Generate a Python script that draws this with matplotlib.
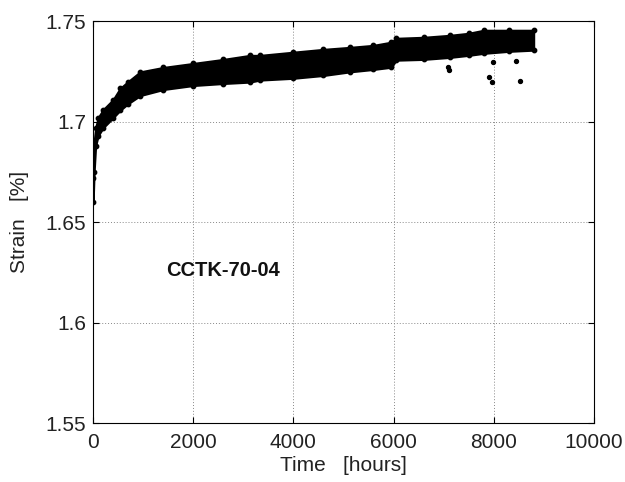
import matplotlib
matplotlib.use("Agg")
import matplotlib.pyplot as plt

plt.rcParams["font.family"] = ["Liberation Sans", "DejaVu Sans"]

time_h = [0, 20, 50, 100, 200, 400, 540, 700, 940, 1400, 2000, 2600, 3130,
          3330, 4000, 4600, 5130, 5600, 5960, 6050, 6600, 7130, 7500, 7800,
          8300, 8800]
strain_upper = [1.672, 1.690, 1.697, 1.702, 1.706, 1.711, 1.7166, 1.720, 1.7248,
                1.727, 1.729, 1.731, 1.733, 1.733, 1.7346, 1.736, 1.737, 1.738,
                1.7396, 1.7415, 1.742, 1.743, 1.744, 1.7455, 1.7455, 1.7455]
strain_lower = [1.660, 1.675, 1.688, 1.693, 1.697, 1.702, 1.7057, 1.709, 1.713,
                1.716, 1.718, 1.719, 1.7197, 1.7207, 1.7216, 1.723, 1.7248, 1.726,
                1.7271, 1.7306, 1.731, 1.732, 1.733, 1.734, 1.735, 1.7356]

# Isolated points below the band
out_time = [7110, 7090, 7900, 7960, 7990, 8535, 8450]
out_strain = [1.7256, 1.7270, 1.7221, 1.7198, 1.7296, 1.7203, 1.7300]

x_ticks = [0, 2000, 4000, 6000, 8000, 10000]
y_ticks = [1.55, 1.6, 1.65, 1.7, 1.75]

fig = plt.figure(figsize=(6.25, 4.82), dpi=100)
ax = fig.add_axes([0.149, 0.122, 0.801, 0.834])

ax.fill_between(time_h, strain_lower, strain_upper, color="black", linewidth=1.5,
                edgecolor="black", zorder=3)
ax.scatter(time_h, strain_upper, s=10, color="black", zorder=3)
ax.scatter(time_h, strain_lower, s=10, color="black", zorder=3)
ax.scatter(out_time, out_strain, s=8, color="black", zorder=3)

ax.set_xlim(0, 10000)
ax.set_ylim(1.55, 1.75)
ax.set_xticks(x_ticks)
ax.set_yticks(y_ticks)
ax.set_yticklabels(["1.55", "1.6", "1.65", "1.7", "1.75"])
ax.tick_params(direction="in", top=True, right=True, labelsize=15, length=4,
               labelcolor="#222222")
ax.tick_params(axis="x", pad=7)
ax.tick_params(axis="y", pad=5)
ax.grid(True, color="#888888", linestyle=(0, (1, 2)), linewidth=0.7)
ax.set_axisbelow(True)

ax.set_xlabel("Time   [hours]", fontsize=15, labelpad=3, color="#222222")
ax.set_ylabel("Strain   [%]", fontsize=15, labelpad=12, color="#222222")
ax.text(1450, 1.626, "CCTK-70-04", fontsize=14.5, fontweight="bold",
        va="center", color="#111111")

fig.savefig("out.png", dpi=100)
